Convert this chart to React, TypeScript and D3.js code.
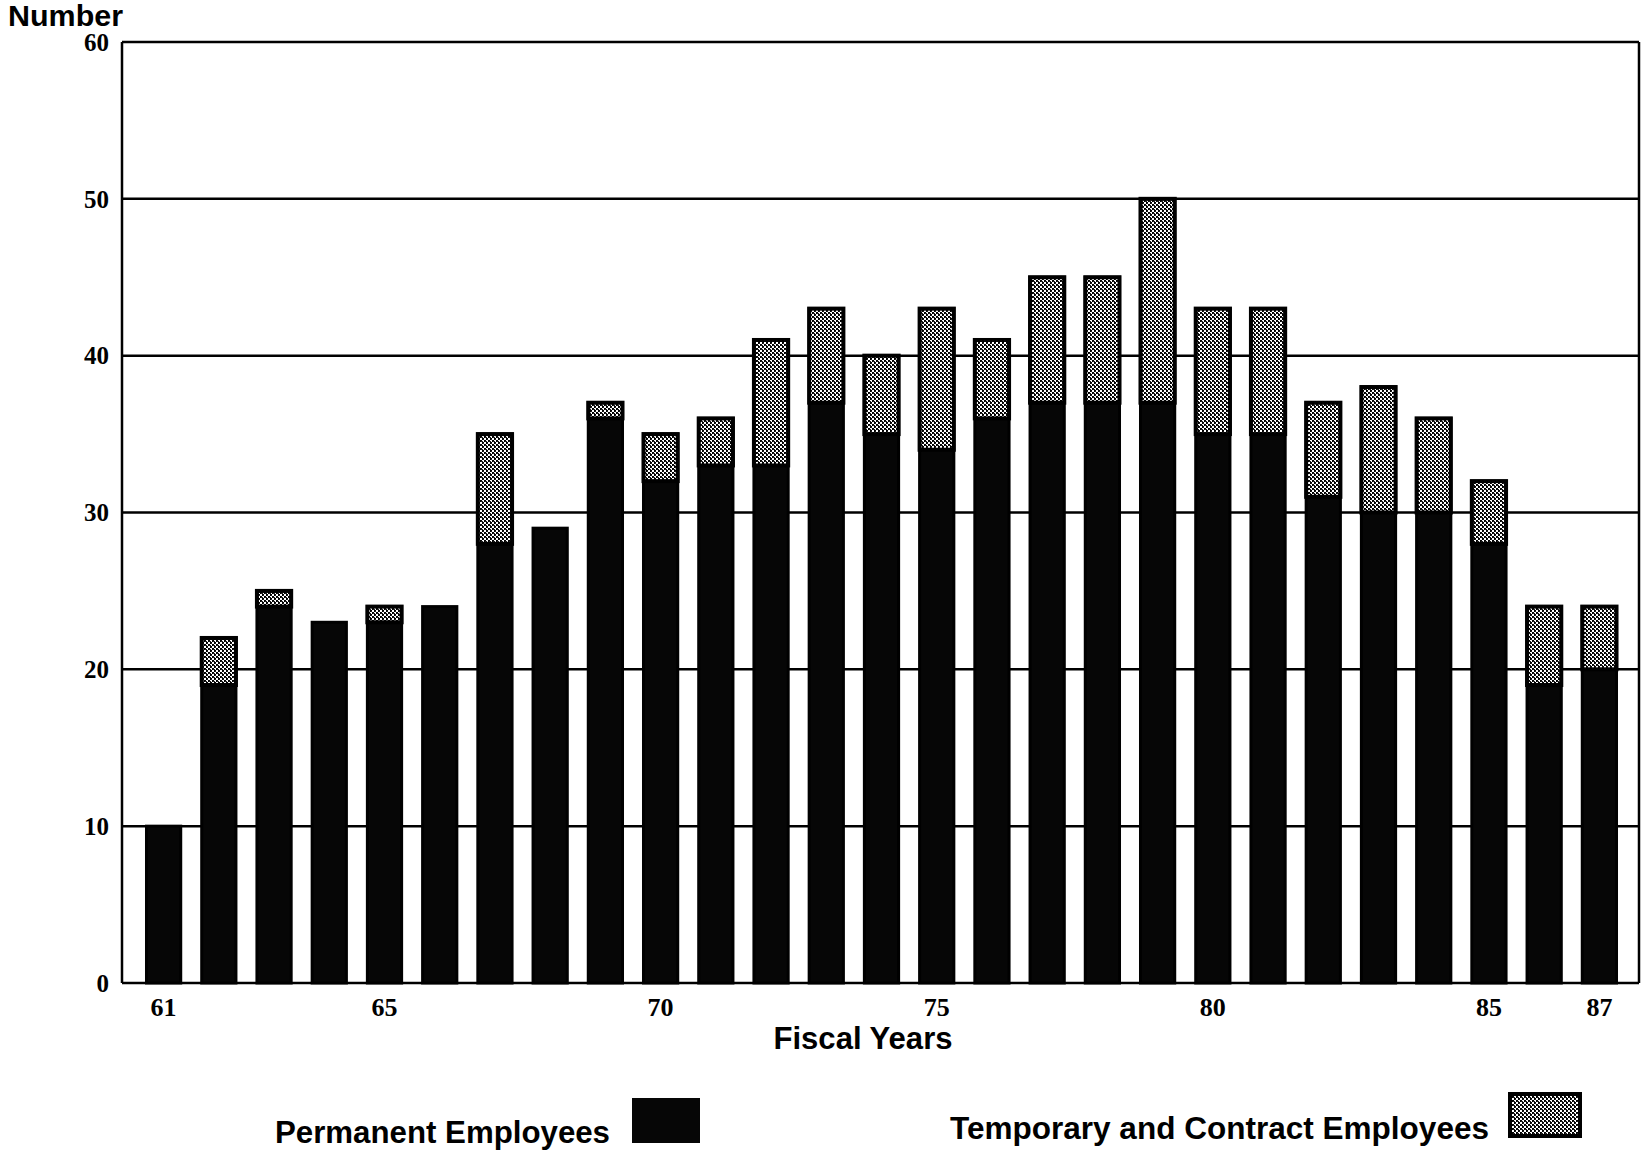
import React from 'react';
import * as d3 from 'd3';

// fiscal years 61..87
const YEARS = ['61','62','63','64','65','66','67','68','69','70','71','72','73','74','75','76','77','78','79','80','81','82','83','84','85','86','87'];
const PERMANENT = [10,19,24,23,23,24,28,29,36,32,33,33,37,35,34,36,37,37,37,35,35,31,30,30,28,19,20];
const TEMPORARY = [0,3,1,0,1,0,7,0,1,3,3,8,6,5,9,5,8,8,13,8,8,6,8,6,4,5,4];
const X_TICKS = ['61','65','70','75','80','85','87'];
const Y_TICKS = [0,10,20,30,40,50,60];

const W = 1644;
const H = 1151;
const margin = { top: 42, right: 5, bottom: 168, left: 122 };

export default function App() {
  const plotW = W - margin.left - margin.right;
  const x0 = margin.left;
  const x1 = margin.left + plotW;

  const x = d3.scaleBand<string>()
    .domain(YEARS)
    .range([x0 + 14, x1 - 12])
    .paddingInner(0.38)
    .paddingOuter(0.19);

  const y = d3.scaleLinear().domain([0, 60]).range([983, margin.top]);

  const sans = 'Liberation Sans, Arial, sans-serif';
  const serif = 'Liberation Serif, Times New Roman, serif';

  return (
    <svg width={W} height={H} style={{ display: 'block', position: 'absolute', left: 0, top: 0, background: '#fff' }}>
      <defs>
        <pattern id="temp" width="4" height="4" patternUnits="userSpaceOnUse">
          <rect width="4" height="4" fill="#fff" />
          <rect x="0" y="0" width="2" height="2" fill="#000" />
          <rect x="2" y="2" width="2" height="2" fill="#000" />
          <rect x="1" y="1" width="2" height="1" fill="#222" />
          <rect x="3" y="3" width="1" height="1" fill="#222" />
        </pattern>
      </defs>

      {/* gridlines */}
      {Y_TICKS.map(t => (
        <line key={'g' + t} x1={x0} x2={x1} y1={y(t)} y2={y(t)} stroke="#000" strokeWidth={2.5} />
      ))}
      {/* frame */}
      <line x1={x0} x2={x0} y1={y(60)} y2={y(0)} stroke="#000" strokeWidth={2.5} />
      <line x1={x1} x2={x1} y1={y(60)} y2={y(0)} stroke="#000" strokeWidth={2.5} />

      {/* bars */}
      {YEARS.map((yr, i) => {
        const bx = x(yr)!;
        const bw = x.bandwidth();
        const p = PERMANENT[i];
        const t = TEMPORARY[i];
        return (
          <g key={yr}>
            <rect x={bx} y={y(p)} width={bw} height={y(0) - y(p)} fill="#060606" />
            {t > 0 && (
              <rect x={bx} y={y(p + t)} width={bw} height={y(p) - y(p + t)} fill="url(#temp)"
                stroke="#000" strokeWidth={4} />
            )}
            <rect x={bx} y={y(p + t)} width={bw} height={y(0) - y(p + t)} fill="none" stroke="#000" strokeWidth={3} />
          </g>
        );
      })}

      {/* y tick labels */}
      {Y_TICKS.map(t => (
        <text key={'yl' + t} x={109} y={y(t)} dy="0.35em" textAnchor="end"
          fontFamily={serif} fontWeight="bold" fontSize={25}>{t}</text>
      ))}

      {/* x tick labels */}
      {X_TICKS.map(t => (
        <text key={'xl' + t} x={x(t)! + x.bandwidth() / 2} y={1016} textAnchor="middle"
          fontFamily={serif} fontWeight="bold" fontSize={26}>{t}</text>
      ))}

      <text x={8} y={26} fontFamily={sans} fontWeight="bold" fontSize={29}
        textLength={115} lengthAdjust="spacingAndGlyphs">Number</text>
      <text x={863} y={1049} textAnchor="middle" fontFamily={sans} fontWeight="bold" fontSize={31}
        textLength={179} lengthAdjust="spacingAndGlyphs">Fiscal Years</text>

      {/* legend */}
      <text x={275} y={1143} fontFamily={sans} fontWeight="bold" fontSize={31}
        textLength={335} lengthAdjust="spacingAndGlyphs">Permanent Employees</text>
      <rect x={632} y={1098} width={68} height={45} fill="#060606" />
      <text x={950} y={1139} fontFamily={sans} fontWeight="bold" fontSize={31}
        textLength={539} lengthAdjust="spacingAndGlyphs">Temporary and Contract Employees</text>
      <rect x={1510} y={1094} width={70} height={42} fill="url(#temp)" stroke="#000" strokeWidth={4} />
    </svg>
  );
}
